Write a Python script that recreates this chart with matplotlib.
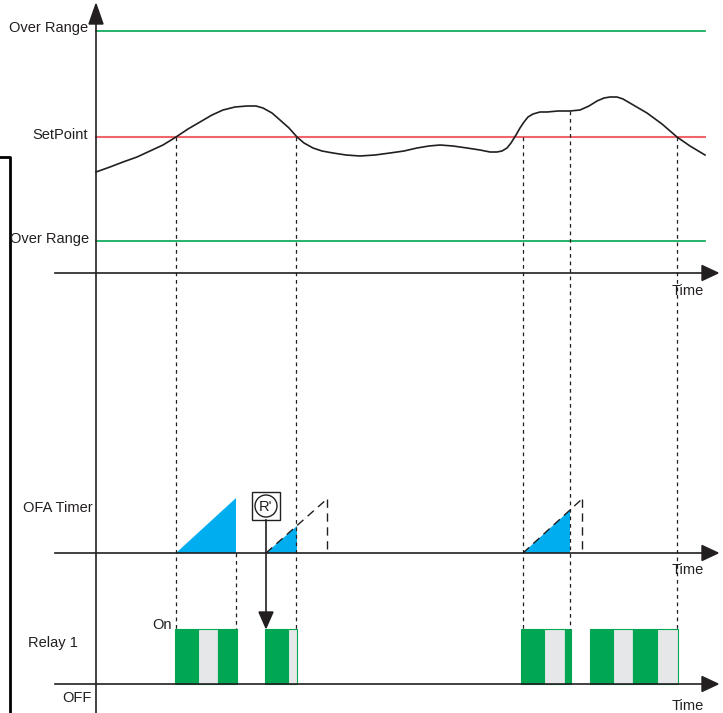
import matplotlib.pyplot as plt
from matplotlib.patches import Polygon, Rectangle, Circle

plt.rcParams['font.family'] = ['Liberation Sans', 'DejaVu Sans']

# process value curve (time, value), value axis points down
curve_t = [96, 110, 123, 137, 150, 163, 176, 188, 200, 212, 223, 235, 247, 256, 263, 272, 280, 289,
           297, 304, 313, 322, 333, 346, 360, 375, 390, 404, 417, 429, 440, 453, 467, 480, 490,
           497, 502, 507, 511, 516, 520, 524, 528, 533, 540, 547, 558, 570, 580, 589, 597, 604, 610,
           617, 623, 635, 647, 662, 677, 690, 705]
curve_v = [172, 167, 162, 157, 151, 145, 137, 129, 122, 115, 110, 107, 106, 106, 108, 113, 120, 128,
           137, 143, 148, 151, 153, 155, 156, 155, 153, 151, 148, 146, 145, 146, 148, 150, 152,
           152, 151, 148, 143, 135, 128, 122, 117, 114, 112, 112, 111, 111, 110, 106, 101, 98, 97,
           97, 99, 106, 113, 124, 137, 146, 155]

over_range_hi = 31
setpoint = 137
over_range_lo = 241

# event times (dashed markers)
events = [176, 236, 296, 523, 570, 677]
event_tops = [137, 553, 137, 137, 111, 137]

# OFA timer ramps: start, stop, end of full ramp, ramp top at full
ofa_start = [176, 266, 523]
ofa_stop = [236, 297, 570]
ofa_full = [236, 327, 582]
ofa_peak = [498, 499, 499]

# relay segments: (start, end, state) 1 = on (green), 0 = inhibited (grey)
relay_start = [175, 198, 218, 265, 288, 521, 544, 565, 590, 613, 633, 657]
relay_end = [198, 218, 237, 288, 297, 544, 565, 571, 613, 633, 657, 678]
relay_state = [1, 0, 1, 1, 0, 1, 0, 1, 1, 0, 1, 0]

green = '#00A651'
grey = '#E6E7E8'
blue = '#00AEEF'
red = '#F0656B'
ink = '#231F20'

base1, base2, base3 = 273, 553, 684
relay_top = 629

fig = plt.figure(figsize=(7.23, 7.13), dpi=100)
ax = fig.add_axes([0, 0, 1, 1])
ax.set_xlim(0, 723)
ax.set_ylim(713, 0)
ax.axis('off')

# reference levels
ax.plot([96, 705], [over_range_hi] * 2, color=green, lw=1.2)
ax.plot([96, 705], [setpoint] * 2, color=red, lw=1.5)
ax.plot([96, 705], [over_range_lo] * 2, color=green, lw=1.2)

# process curve
ax.plot(curve_t, curve_v, color=ink, lw=1.2)

# dashed event lines
for t, top in zip(events, event_tops):
    ax.plot([t, t], [top, relay_top], color=ink, lw=0.9, ls=(0, (3, 3)))

# axes
ax.plot([96, 96], [20, 713], color=ink, lw=1.2)
ax.add_patch(Polygon([[96, 4], [89, 24], [103, 24]], closed=True, color=ink))
for b in (base1, base2, base3):
    ax.plot([55, 704], [b, b], color=ink, lw=1.2)
    ax.add_patch(Polygon([[718, b], [702, b - 7.5], [702, b + 7.5]], closed=True, color=ink))

# OFA timer ramps
for s, e, f, p in zip(ofa_start, ofa_stop, ofa_full, ofa_peak):
    y_stop = base2 - (base2 - p) * (e - s) / (f - s)
    ax.add_patch(Polygon([[s, base2], [e, base2], [e, y_stop]], closed=True,
                         facecolor=blue, edgecolor='none'))
    if f > e:
        ax.plot([s, f], [base2, p], color=ink, lw=1.0, ls=(0, (6, 4)))
        ax.plot([f, f], [p, base2], color=ink, lw=1.0, ls=(0, (6, 4)))

# reset R'
ax.add_patch(Rectangle((252, 492), 28, 28, facecolor='white', edgecolor=ink, lw=1.0))
ax.add_patch(Circle((266, 506), 11, facecolor='white', edgecolor=ink, lw=1.0))
ax.text(266, 507, "R'", ha='center', va='center', fontsize=10.5, color=ink)
ax.plot([266, 266], [520, 614], color=ink, lw=1.2)
ax.add_patch(Polygon([[266, 628], [259, 612], [273, 612]], closed=True, color=ink))

# relay blocks
for s, e, st in zip(relay_start, relay_end, relay_state):
    ax.add_patch(Rectangle((s, relay_top), e - s, base3 - relay_top,
                           facecolor=green if st else grey, edgecolor=green, lw=0.8))

# left bracket
ax.plot([0, 10, 10], [157, 157, 713], color='black', lw=2)

# labels
fs = 10.5
ax.text(88, 28, 'Over Range', ha='right', va='center', fontsize=fs, color=ink)
ax.text(88, 135, 'SetPoint', ha='right', va='center', fontsize=fs, color=ink)
ax.text(89, 239, 'Over Range', ha='right', va='center', fontsize=fs, color=ink)
ax.text(93, 508, 'OFA Timer', ha='right', va='center', fontsize=fs, color=ink)
ax.text(28, 643, 'Relay 1', ha='left', va='center', fontsize=fs, color=ink)
ax.text(172, 625, 'On', ha='right', va='center', fontsize=fs, color=ink)
ax.text(92, 698, 'OFF', ha='right', va='center', fontsize=fs, color=ink)
for y in (291, 570, 706):
    ax.text(688, y, 'Time', ha='center', va='center', fontsize=fs, color=ink)

fig.savefig('out.png', dpi=100)
